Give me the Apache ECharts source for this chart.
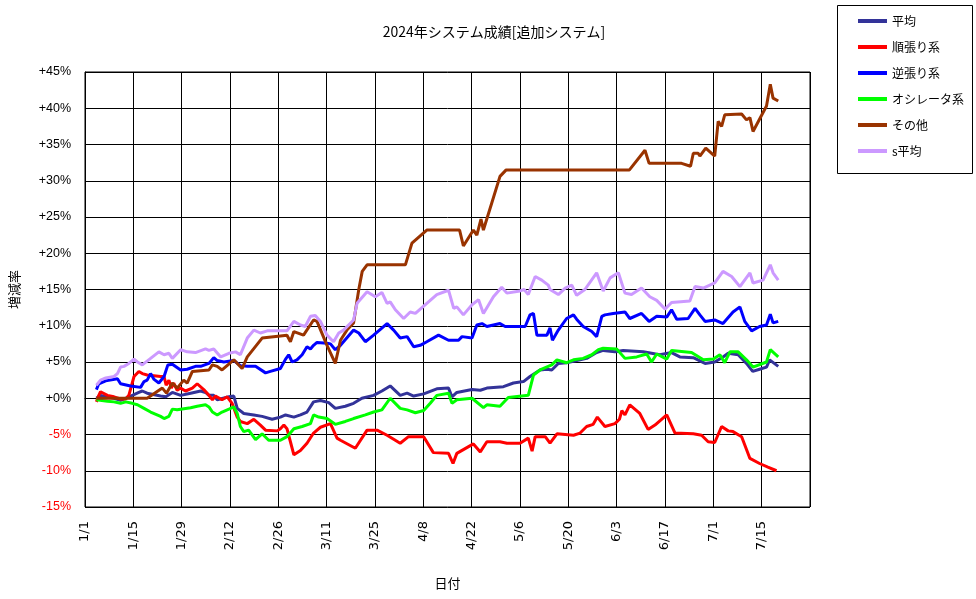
<!DOCTYPE html>
<html>
<head>
<meta charset="utf-8">
<script src="https://cdn.jsdelivr.net/npm/echarts@6/dist/echarts.min.js"></script>
<style>
html,body{margin:0;padding:0;background:#fff;}
#chart{width:976px;height:599px;}
</style>
</head>
<body>
<div id="chart"></div>
<script>
// x values are days since 1/1 (2024)
const xTickLabels = ['1/1','1/15','1/29','2/12','2/26','3/11','3/25','4/8','4/22','5/6','5/20','6/3','6/17','7/1','7/15'];
const yTicks = [-15,-10,-5,0,5,10,15,20,25,30,35,40,45];
const seriesNames = ['平均','順張り系','逆張り系','オシレータ系','その他','s平均'];
const seriesColors = ['#333399','#ff0000','#0000ff','#00ff00','#993300','#cc99ff'];

const avgDays = [3.3,4.5,8.4,10.3,11.8,13.7,15.6,16.6,18.0,21.9,23.4,25.3,27.7,30.6,33.5,34.9,35.9,37.3,38.3,41.7,43.1,44.1,46.0,48.9,51.3,54.2,56.6,58.1,60.5,62.4,64.3,66.2,68.2,70.6,72.5,75.4,77.8,80.2,83.6,86.0,88.4,91.3,93.3,95.2,98.1,101.9,105.3,106.3,107.7,112.1,114.5,116.4,121.2,124.1,127.0,128.9,131.8,133.8,135.2,137.1,139.5,141.5,145.3,148.2,150.1,153.5,155.9,161.7,166.5,169.9,172.3,176.2,179.6,182.4,184.8,186.3,189.2,191.6,193.4,195.4,197.4,198.3,200.8];
const avgVals = [0.0,0.4,0.0,-0.3,0.0,0.4,0.8,1.0,0.7,0.3,0.2,0.8,0.4,0.7,1.0,0.8,0.4,0.4,-0.2,0.2,0.3,-1.4,-2.1,-2.3,-2.5,-2.9,-2.6,-2.3,-2.6,-2.3,-1.9,-0.5,-0.3,-0.6,-1.4,-1.1,-0.7,0.0,0.4,1.0,1.7,0.4,0.7,0.3,0.6,1.3,1.4,0.2,0.8,1.2,1.1,1.4,1.6,2.1,2.3,3.0,3.9,4.0,3.9,4.8,4.9,5.1,5.5,6.3,6.6,6.4,6.6,6.4,6.0,6.3,5.7,5.6,4.8,5.0,5.7,6.2,6.0,4.8,3.7,4.0,4.3,5.3,4.4];

const trendDays = [3.3,4.0,4.5,6.5,8.4,10.3,11.8,12.7,14.2,15.6,16.6,18.0,21.9,22.9,23.5,24.3,25.0,25.7,26.7,27.7,29.1,31.1,32.5,34.4,35.9,36.9,37.8,39.7,41.2,42.6,44.1,45.0,47.0,48.9,50.8,52.3,55.7,56.6,57.6,58.5,59.5,60.5,62.4,64.3,66.2,68.2,71.1,73.0,74.0,78.3,81.7,84.6,87.5,91.3,93.7,98.1,100.9,105.3,106.6,107.7,112.5,114.5,116.4,120.2,122.2,126.0,128.4,129.5,130.4,133.3,134.7,136.7,141.5,143.4,145.3,147.2,148.4,150.6,153.5,154.8,155.5,156.4,157.8,160.7,163.1,165.1,168.5,170.9,176.2,178.6,180.5,182.4,184.4,186.3,187.7,190.2,192.6,195.4,197.8,200.3];
const trendVals = [-0.5,0.4,0.9,0.4,0.2,-0.1,-0.1,0.4,3.0,3.7,3.4,3.2,3.0,3.0,1.8,2.5,1.4,2.1,1.1,1.4,1.0,1.4,2.0,1.2,0.4,-0.2,0.3,-0.2,0.2,-0.7,-2.6,-3.2,-3.5,-2.9,-3.7,-4.4,-4.5,-4.2,-3.7,-4.2,-6.0,-7.8,-7.2,-6.2,-4.8,-4.0,-3.5,-5.5,-5.8,-6.9,-4.4,-4.4,-5.1,-6.2,-5.3,-5.3,-7.5,-7.6,-9.0,-7.6,-6.3,-7.4,-6.0,-6.0,-6.2,-6.2,-5.5,-7.3,-5.3,-5.3,-6.2,-4.9,-5.1,-4.8,-3.9,-3.6,-2.6,-3.9,-3.5,-2.9,-1.7,-2.3,-0.9,-2.1,-4.3,-3.7,-2.3,-4.8,-4.9,-5.1,-6.0,-6.1,-3.9,-4.5,-4.6,-5.3,-8.3,-9.0,-9.5,-10.0];

const contraDays = [3.3,4.0,6.0,9.4,10.3,13.2,16.1,17.1,18.0,19.0,20.0,21.4,22.9,24.0,25.3,27.7,29.6,32.0,33.5,35.9,37.3,38.3,40.2,43.1,45.0,47.0,49.4,52.3,53.7,56.6,58.1,59.0,60.0,61.4,62.9,64.3,65.3,66.2,67.2,70.1,71.1,72.5,74.0,77.8,79.3,81.2,83.6,87.5,89.4,91.3,93.3,95.2,97.1,99.0,102.4,105.3,108.2,109.2,112.1,113.5,115.0,116.4,120.2,121.7,127.5,128.9,129.9,130.9,133.8,134.7,135.4,137.1,139.5,141.5,142.4,144.3,146.8,148.2,149.7,150.6,153.0,156.4,157.8,161.2,163.4,165.6,168.5,169.9,171.4,174.7,176.7,178.1,179.6,182.4,184.8,187.7,189.7,191.1,193.1,195.4,197.4,198.5,199.3,200.8];
const contraVals = [1.2,2.0,2.4,2.7,2.0,1.7,1.5,2.3,2.5,3.4,2.6,2.1,3.0,4.6,4.7,3.9,4.0,4.4,4.4,4.8,5.6,5.2,5.0,5.2,4.5,4.4,4.4,3.5,3.7,4.1,5.4,6.0,5.0,5.3,6.0,7.1,6.8,7.3,7.7,7.6,7.5,6.7,7.3,9.4,9.0,7.8,8.7,10.3,9.4,8.3,8.5,7.1,7.3,7.8,8.7,8.0,8.0,8.5,8.3,10.1,10.3,9.9,10.3,9.9,9.9,11.5,11.7,8.7,8.7,9.7,8.0,9.4,11.0,11.5,10.9,9.9,9.2,8.5,11.3,11.5,11.7,11.9,11.0,11.7,10.6,11.3,11.2,12.2,10.9,11.0,12.4,11.5,10.6,10.8,10.3,11.9,12.6,10.6,9.3,9.9,10.1,11.6,10.4,10.6];

const oscDays = [3.3,6.5,8.4,10.3,11.8,13.7,15.2,17.1,19.0,21.9,22.9,24.3,25.3,26.7,30.6,32.5,34.9,35.9,36.9,38.3,39.7,41.7,43.1,44.1,45.0,46.0,47.4,49.4,51.3,53.2,56.6,58.5,60.5,62.9,65.3,66.2,67.7,70.1,72.5,75.4,77.8,81.2,83.6,86.0,88.4,91.3,93.3,95.7,98.1,100.0,101.9,105.3,106.3,107.7,112.1,115.4,116.4,120.2,122.6,128.4,129.9,131.8,135.2,136.7,139.5,141.5,144.3,146.8,148.7,150.1,154.0,156.4,159.8,162.7,164.1,165.6,168.5,169.9,175.7,179.1,182.0,183.9,185.3,186.8,189.2,191.6,193.5,197.4,198.5,200.8];
const oscVals = [-0.2,-0.4,-0.5,-0.7,-0.5,-0.7,-0.9,-1.4,-1.9,-2.5,-2.8,-2.5,-1.5,-1.6,-1.3,-1.1,-0.9,-1.2,-1.9,-2.3,-1.9,-1.5,-1.2,-2.1,-3.9,-4.6,-4.4,-5.7,-4.9,-5.8,-5.8,-5.3,-4.2,-3.9,-3.5,-2.3,-2.6,-2.8,-3.6,-3.2,-2.8,-2.3,-1.9,-1.6,0.0,-1.4,-1.6,-2.0,-1.7,-0.7,0.4,0.7,-0.7,-0.2,0.0,-1.3,-0.9,-1.1,0.1,0.4,3.2,3.9,4.6,5.3,4.9,5.3,5.5,6.0,6.7,6.9,6.8,5.5,5.7,6.1,5.0,6.1,5.4,6.6,6.3,5.3,5.4,6.0,4.9,6.4,6.4,5.3,4.3,5.0,6.7,5.7];

const otherDays = [3.4,18.0,22.4,23.6,25.3,26.7,28.6,29.6,31.1,35.9,36.9,38.3,39.7,43.1,45.5,47.0,51.3,56.6,58.5,59.5,60.5,63.3,66.2,67.2,70.1,72.5,74.0,76.0,77.8,79.3,80.3,81.7,92.8,94.7,99.0,108.5,109.6,112.5,113.5,114.7,115.4,117.8,120.2,122.0,157.7,162.2,163.4,172.8,175.4,176.2,177.6,178.1,179.8,182.4,183.4,184.4,185.3,190.2,191.6,192.6,193.5,197.4,198.5,199.3,200.8];
const otherVals = [0,0,1.4,0.7,2.1,1.4,2.5,2.1,3.7,3.9,4.6,4.4,3.9,5.3,4.1,5.7,8.3,8.6,8.7,7.8,9.2,8.7,10.8,10.6,7.3,4.8,8.0,9.5,10.4,15.0,17.5,18.4,18.4,21.4,23.2,23.2,21.0,23.2,22.5,24.7,23.2,26.9,30.6,31.5,31.5,34.2,32.4,32.4,32.0,33.8,33.8,33.4,34.5,33.4,38.2,37.5,39.1,39.2,38.4,38.7,36.8,40.3,43.3,41.4,41.0];

const sAvgDays = [3.3,4.5,6.0,8.4,9.4,10.3,11.3,12.7,14.2,15.2,16.6,19.0,21.4,22.9,24.3,25.3,27.7,29.6,32.0,34.9,35.9,37.3,39.3,41.7,43.6,45.0,47.0,48.9,50.8,52.8,58.5,60.5,62.4,63.8,65.3,66.7,68.2,70.1,72.0,73.5,74.9,77.8,78.8,81.7,84.1,86.0,87.5,88.4,89.9,92.3,94.2,95.7,99.0,101.9,105.3,106.8,107.7,109.6,112.1,114.0,115.4,118.3,120.7,122.2,126.0,127.2,128.4,130.4,132.3,134.2,134.7,137.1,139.1,141.0,142.4,144.8,148.2,150.1,152.1,154.5,156.4,158.3,161.2,163.6,165.6,168.0,169.9,175.2,176.7,179.1,182.4,184.8,187.3,189.7,192.6,193.5,196.4,198.5,199.3,200.8];
const sAvgVals = [1.8,2.5,2.8,3.0,3.4,4.3,4.4,4.8,5.4,5.0,4.6,5.5,6.4,6.0,6.2,5.5,6.7,6.4,6.3,6.8,6.6,6.8,5.7,6.2,6.4,6.0,8.3,9.4,9.0,9.3,9.3,10.6,10.1,9.9,11.3,11.4,10.6,8.7,7.8,9.0,9.4,10.8,13.1,14.7,14.0,14.6,13.1,13.3,12.2,11.0,11.9,11.7,13.1,14.3,14.9,12.4,12.6,11.5,12.9,13.6,11.7,14.0,15.3,14.5,14.8,15.0,14.3,16.8,16.3,15.6,15.0,14.3,15.2,15.6,14.2,15.0,17.3,14.8,16.6,17.3,14.5,14.3,15.2,14.0,13.5,12.3,13.2,13.4,15.4,15.2,15.9,17.5,16.8,15.4,17.3,15.9,16.3,18.4,17.3,16.3];

const allDays = [avgDays, trendDays, contraDays, oscDays, otherDays, sAvgDays];
const allVals = [avgVals, trendVals, contraVals, oscVals, otherVals, sAvgVals];

const chart = echarts.init(document.getElementById('chart'), null, {renderer: 'canvas'});
const JP = '"Noto Sans CJK JP", sans-serif';
const LAT = '"Liberation Sans", Arial, sans-serif';

const series = seriesNames.map((name, k) => ({
  name: name,
  type: 'line',
  symbol: 'none',
  smooth: false,
  animation: false,
  data: allDays[k].map((d, i) => [d, allVals[k][i]]),
  lineStyle: {color: seriesColors[k], width: 3},
  itemStyle: {color: seriesColors[k]}
}));

chart.setOption({
  backgroundColor: '#ffffff',
  animation: false,
  title: {
    text: '2024年システム成績[追加システム]',
    left: 489, top: 20, textAlign: 'center',
    textStyle: {fontFamily: JP, fontSize: 14, fontWeight: 'normal', color: '#000'}
  },
  graphic: [{
    type: 'rect', left: 837, top: 5, z: -1,
    shape: {width: 135, height: 168},
    style: {fill: '#fff', stroke: '#000', lineWidth: 1}
  }],
  legend: {
    orient: 'vertical', left: 851, top: 10,
    itemWidth: 29, itemHeight: 14, itemGap: 14,
    itemStyle: {opacity: 0},
    lineStyle: {width: 4},
    textStyle: {fontFamily: JP, fontSize: 12, color: '#000'},
    data: seriesNames
  },
  grid: {left: 84, right: 166, top: 72, bottom: 92, show: true, borderColor: '#000', borderWidth: 1, containLabel: false},
  xAxis: {
    type: 'value', min: 0, max: 210, interval: 14,
    name: '日付', nameLocation: 'middle', nameGap: 70,
    nameTextStyle: {fontFamily: JP, fontSize: 13, color: '#000'},
    axisLine: {show: true, lineStyle: {color: '#000', width: 1}},
    axisTick: {show: false},
    splitLine: {show: true, lineStyle: {color: '#000', width: 1}},
    axisLabel: {
      rotate: 90, margin: 14, fontFamily: '"DejaVu Sans", sans-serif', fontSize: 13, color: '#000',
      formatter: v => xTickLabels[Math.round(v / 14)] || ''
    }
  },
  yAxis: {
    type: 'value', min: yTicks[0], max: yTicks[yTicks.length - 1], interval: 5,
    name: '増減率', nameLocation: 'middle', nameGap: 64, nameRotate: 90,
    nameTextStyle: {fontFamily: JP, fontSize: 13, color: '#000'},
    axisLine: {show: true, lineStyle: {color: '#000', width: 1}},
    axisTick: {show: false},
    splitLine: {show: true, lineStyle: {color: '#000', width: 1}},
    axisLabel: {
      margin: 14, fontFamily: LAT, fontSize: 12.5, color: v => (v < 0 ? '#ff0000' : '#000000'),
      formatter: v => (v < 0 ? v + '%' : '+' + v + '%')
    }
  },
  series: series
});
</script>
</body>
</html>
